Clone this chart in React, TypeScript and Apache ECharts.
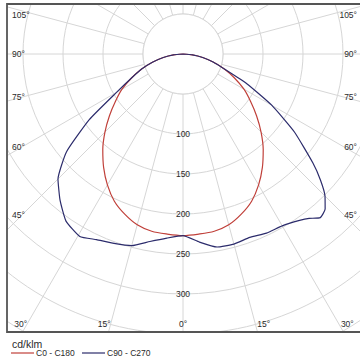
import React, { useEffect, useRef } from "react";
import * as echarts from "echarts";

// gamma angles (deg from nadir) and intensities (cd/klm)
const gammaC0C180 = [0, 5, 10, 15, 20, 25, 30, 35, 40, 45, 50, 55, 60, 65, 70, 75, 80, 85, 90];
const intensityC0C180 = [227, 226, 225, 221, 213, 203, 189, 173, 156, 138, 120, 103, 88, 71, 55, 39, 25, 12, 0];

const gammaC90 = [0, 5, 10, 15, 20, 25, 30, 35, 37.5, 40, 42.5, 45, 47.5, 50, 55, 60, 65, 70, 75, 80, 85, 90];
const intensityC90 = [227, 236, 245, 246, 244, 247, 248, 254, 259, 267, 263, 251, 233, 212, 170, 128, 88, 55, 39, 25, 12, 0];

const gammaC270 = [0, 5, 10, 15, 20, 25, 29.5, 35, 40, 45, 50, 55, 60, 65, 70, 75, 80, 85, 90];
const intensityC270 = [227, 231, 238, 248, 252, 256, 262, 255, 239, 221, 190, 143, 96, 71, 55, 39, 25, 12, 0];

const angleTickLabels = [0, 15, 30, 45, 60, 75, 90, 105];
const radiusTickLabels = [100, 150, 200, 250, 300];
const seriesNames = ["C0 - C180", "C90 - C270"];
const unitLabel = "cd/klm";

const RED = "#c0403a";
const BLUE = "#2c2c6c";
const GRID = "#d6d6d6";
const TEXT = "#2a2a2a";
const FONT = "Liberation Sans";

const CX = 183;
const CY = 54;
const RMAX = 320;
const INNER = 40;

function buildCurve(leftG: number[], leftI: number[], rightG: number[], rightI: number[]) {
  const pts: [number, number][] = [];
  for (let i = leftG.length - 1; i >= 0; i--) {
    pts.push([leftI[i], 360 - leftG[i]]);
  }
  for (let i = 1; i < rightG.length; i++) {
    pts.push([rightI[i], rightG[i]]);
  }
  return pts;
}

export default function App() {
  const ref = useRef<HTMLDivElement>(null);
  useEffect(() => {
    if (!ref.current) return;
    const chart = echarts.init(ref.current, undefined, { renderer: "svg" });

    const labelEls: any[] = [];
    angleTickLabels.forEach((g) => {
      const txt = g + "°";
      const st = { fill: TEXT, fontSize: 8.5, fontFamily: FONT, verticalAlign: "middle" };
      if (g === 0) {
        labelEls.push({ type: "text", x: CX, y: 324, z: 120, style: { ...st, text: txt, align: "center" } });
      } else if (g < 45) {
        const dx = 270 * Math.tan((g * Math.PI) / 180);
        labelEls.push({ type: "text", x: CX - dx, y: 324, z: 120, style: { ...st, text: txt, align: "right" } });
        labelEls.push({ type: "text", x: CX + dx + 2, y: 324, z: 120, style: { ...st, text: txt, align: "left" } });
      } else {
        let y = CY + 161 / Math.tan((g * Math.PI) / 180);
        if (y < 15) y = 15;
        labelEls.push({ type: "text", x: 12, y, z: 120, style: { ...st, text: txt, align: "left" } });
        labelEls.push({ type: "text", x: 357, y, z: 120, style: { ...st, text: txt, align: "right" } });
      }
    });

    chart.setOption({
      animation: false,
      polar: { center: [CX, CY], radius: [0, RMAX] },
      angleAxis: {
        type: "value",
        min: 0,
        max: 360,
        interval: 15,
        startAngle: 270,
        clockwise: false,
        z: 0,
        axisLine: { show: false },
        axisTick: { show: false },
        axisLabel: { show: false },
        splitLine: { show: true, lineStyle: { color: GRID, width: 1 } },
      },
      radiusAxis: {
        type: "value",
        min: 0,
        max: 400,
        interval: 50,
        z: 0,
        axisLine: { show: false },
        axisTick: { show: false },
        splitLine: { show: true, lineStyle: { color: GRID, width: 1 } },
        axisLabel: {
          show: true,
          margin: 0,
          rotate: 0,
          align: "center",
          verticalAlign: "middle",
          color: TEXT,
          fontSize: 8.5,
          fontFamily: FONT,
          formatter: (v: number) => (radiusTickLabels.indexOf(v) >= 0 ? String(v) : ""),
        },
      },
      series: [
        {
          name: seriesNames[0],
          type: "line",
          coordinateSystem: "polar",
          data: buildCurve(gammaC0C180, intensityC0C180, gammaC0C180, intensityC0C180),
          showSymbol: false,
          symbol: "none",
          smooth: 0.3,
          clip: false,
          lineStyle: { color: RED, width: 1.2 },
          z: 3,
        },
        {
          name: seriesNames[1],
          type: "line",
          coordinateSystem: "polar",
          data: buildCurve(gammaC270, intensityC270, gammaC90, intensityC90),
          showSymbol: false,
          symbol: "none",
          smooth: 0.15,
          clip: false,
          lineStyle: { color: BLUE, width: 1.2 },
          z: 4,
        },
      ],
      graphic: [
        { type: "circle", z: 1, shape: { cx: CX, cy: CY, r: INNER }, style: { fill: "#fff", stroke: GRID, lineWidth: 1 } },
        { type: "rect", z: 100, shape: { x: 0, y: 0, width: 7, height: 360 }, style: { fill: "#fff" } },
        { type: "rect", z: 100, shape: { x: 0, y: 0, width: 360, height: 4 }, style: { fill: "#fff" } },
        { type: "rect", z: 100, shape: { x: 0, y: 332, width: 360, height: 28 }, style: { fill: "#fff" } },
        { type: "rect", z: 110, shape: { x: 7, y: 4, width: 360, height: 328 }, style: { fill: "none", stroke: "#555", lineWidth: 1.8 } },
        ...labelEls,
        { type: "text", x: 12, y: 344, z: 120, style: { text: unitLabel, align: "left", verticalAlign: "middle", fill: TEXT, fontSize: 10.5, fontFamily: FONT } },
        { type: "line", z: 120, shape: { x1: 11, y1: 353, x2: 34, y2: 353 }, style: { stroke: RED, lineWidth: 1.2 } },
        { type: "text", x: 36, y: 353, z: 120, style: { text: seriesNames[0], align: "left", verticalAlign: "middle", fill: TEXT, fontSize: 8.5, fontFamily: FONT } },
        { type: "line", z: 120, shape: { x1: 82, y1: 353, x2: 105, y2: 353 }, style: { stroke: BLUE, lineWidth: 1.2 } },
        { type: "text", x: 107, y: 353, z: 120, style: { text: seriesNames[1], align: "left", verticalAlign: "middle", fill: TEXT, fontSize: 8.5, fontFamily: FONT } },
      ],
    });
    return () => chart.dispose();
  }, []);
  return <div ref={ref} style={{ position: "fixed", left: 0, top: 0, width: 360, height: 360, background: "#fff" }} />;
}
